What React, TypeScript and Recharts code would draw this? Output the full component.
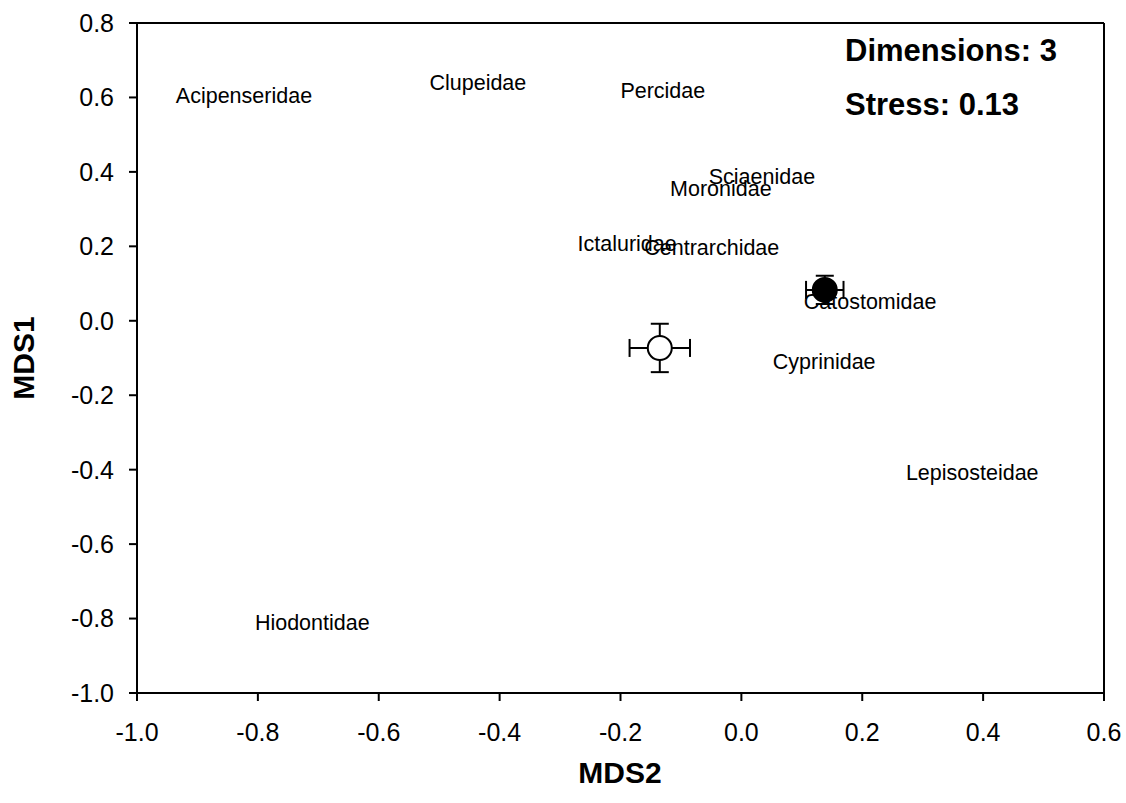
import React from 'react';
import { ScatterChart, Scatter, XAxis, YAxis, ErrorBar, ReferenceLine, Customized } from 'recharts';

// Family labels placed at their MDS coordinates
const familyNames = [
  'Acipenseridae',
  'Clupeidae',
  'Percidae',
  'Sciaenidae',
  'Moronidae',
  'Ictaluridae',
  'Centrarchidae',
  'Catostomidae',
  'Cyprinidae',
  'Lepisosteidae',
  'Hiodontidae',
];
const familyX = [-0.823, -0.436, -0.13, 0.034, -0.034, -0.189, -0.049, 0.213, 0.137, 0.382, -0.71];
const familyY = [0.607, 0.641, 0.62, 0.389, 0.357, 0.209, 0.198, 0.053, -0.108, -0.406, -0.809];

// Group centroids with standard errors
const groupX = [0.138, -0.135];
const groupY = [0.083, -0.073];
const groupErrX = [0.031, 0.05];
const groupErrY = [0.038, 0.065];
const groupFill = ['#000000', '#ffffff'];

const xTicks = [-1.0, -0.8, -0.6, -0.4, -0.2, 0.0, 0.2, 0.4, 0.6];
const yTicks = [-1.0, -0.8, -0.6, -0.4, -0.2, 0.0, 0.2, 0.4, 0.6, 0.8];

const annotations = ['Dimensions: 3', 'Stress: 0.13'];

const FONT = '"Liberation Sans", Arial, Helvetica, sans-serif';

const families = familyNames.map((name, i) => ({ name, x: familyX[i], y: familyY[i] }));
const groups = groupX.map((x, i) => ({
  x,
  y: groupY[i],
  ex: groupErrX[i],
  ey: groupErrY[i],
  fill: groupFill[i],
}));

const FamilyLabel = (props: any) => {
  const { cx, cy, payload } = props;
  return (
    <text
      x={cx}
      y={cy}
      dy="0.36em"
      textAnchor="middle"
      fontFamily={FONT}
      fontSize={21.5}
      fill="#000"
    >
      {payload.name}
    </text>
  );
};

const GroupDot = (props: any) => {
  const { cx, cy, payload } = props;
  return <circle cx={cx} cy={cy} r={12} fill={payload.fill} stroke="#000" strokeWidth={2} />;
};

const NoDot = () => <g />;

const Titles = () => (
  <g fontFamily={FONT} fontWeight="bold" fill="#000">
    <text x={620} y={783} textAnchor="middle" fontSize={30}>
      MDS2
    </text>
    <text
      x={23}
      y={358}
      dy="0.36em"
      textAnchor="middle"
      fontSize={30}
      transform="rotate(-90, 23, 358)"
    >
      MDS1
    </text>
    {annotations.map((t, i) => (
      <text key={t} x={845} y={61 + i * 54} fontSize={31}>
        {t}
      </text>
    ))}
  </g>
);

const fmt = (v: number) => v.toFixed(1);

export default function App() {
  const tickStyle = { fontSize: 25, fill: '#000', fontFamily: FONT };
  const lineStyle = { stroke: '#000', strokeWidth: 2 };
  return (
    <div style={{ position: 'absolute', left: 0, top: 0, background: '#fff' }}>
      <ScatterChart width={1126} height={803} margin={{ top: 23, right: 22, left: 0, bottom: 0 }}>
        <XAxis
          type="number"
          dataKey="x"
          domain={[-1, 0.6]}
          ticks={xTicks}
          tickFormatter={fmt}
          interval={0}
          height={110}
          tickSize={8}
          tickMargin={22}
          tick={tickStyle}
          axisLine={lineStyle}
          tickLine={lineStyle}
          allowDataOverflow
        />
        <YAxis
          type="number"
          dataKey="y"
          domain={[-1, 0.8]}
          ticks={yTicks}
          tickFormatter={fmt}
          interval={0}
          width={137}
          tickSize={8}
          tickMargin={15}
          tick={tickStyle}
          axisLine={lineStyle}
          tickLine={lineStyle}
          allowDataOverflow
        />
        <ReferenceLine y={0.8} stroke="#000" strokeWidth={2} />
        <ReferenceLine x={0.6} stroke="#000" strokeWidth={2} />
        <Scatter data={families} shape={FamilyLabel} isAnimationActive={false} />
        <Scatter data={groups} shape={NoDot} isAnimationActive={false}>
          <ErrorBar dataKey="ex" direction="x" width={9} stroke="#000" strokeWidth={2} />
          <ErrorBar dataKey="ey" direction="y" width={9} stroke="#000" strokeWidth={2} />
        </Scatter>
        <Scatter data={groups} shape={GroupDot} isAnimationActive={false} />
        <Customized component={Titles} />
      </ScatterChart>
    </div>
  );
}
